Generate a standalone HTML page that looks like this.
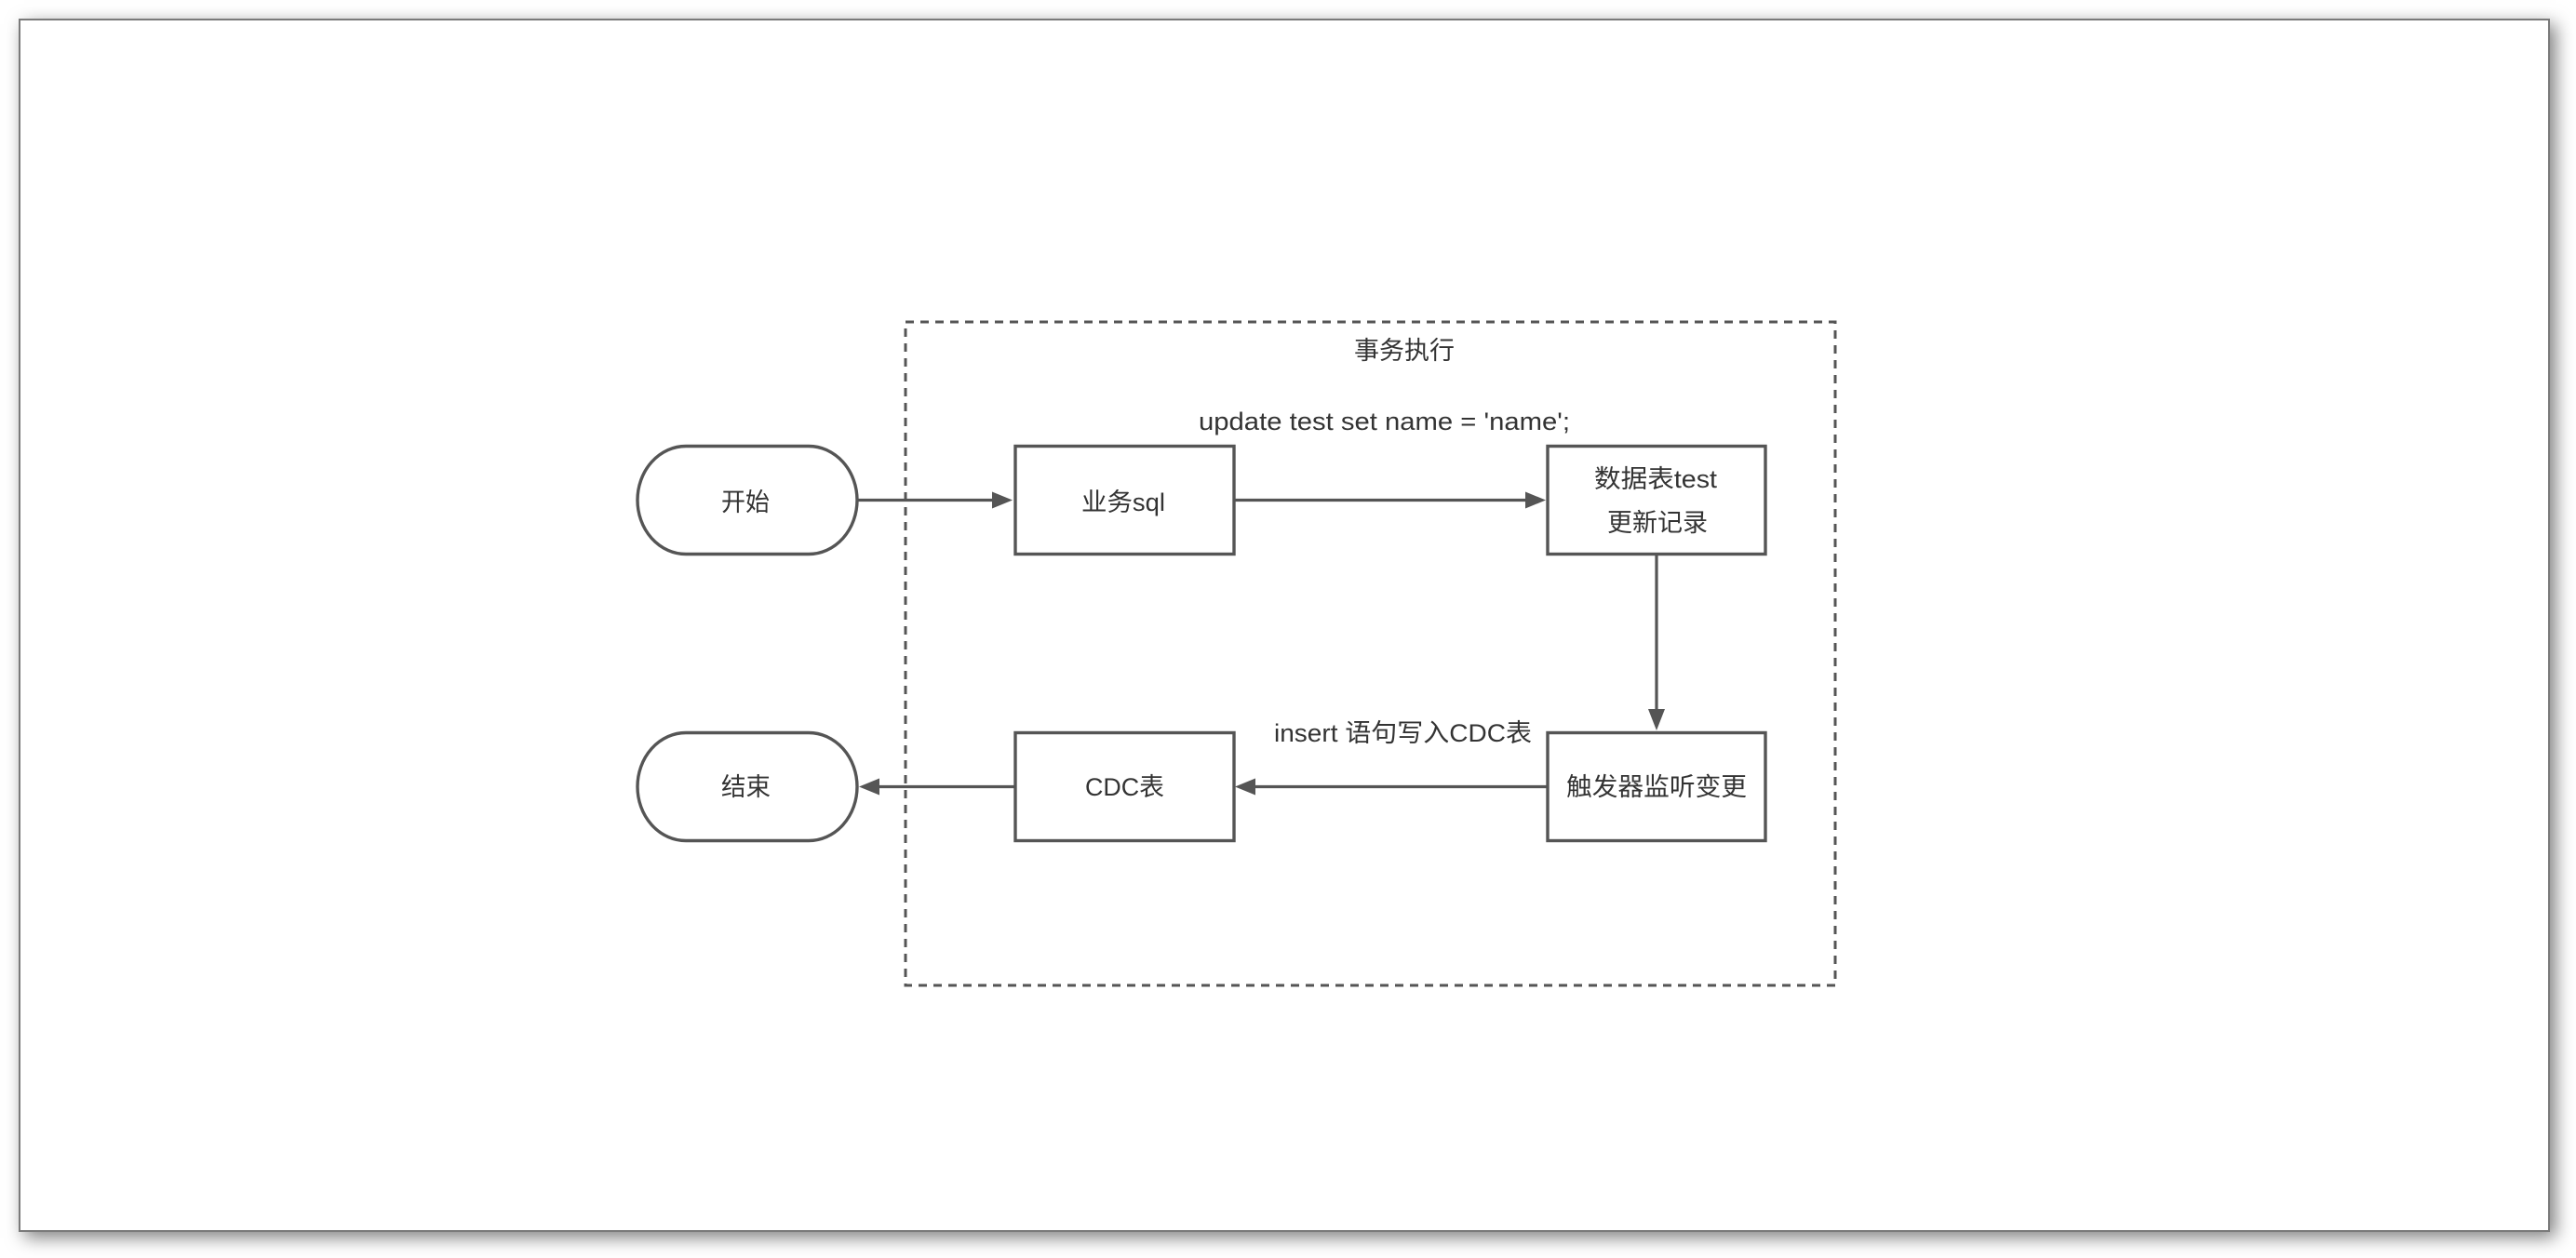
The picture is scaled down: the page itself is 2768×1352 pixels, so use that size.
<!DOCTYPE html>
<html>
<head>
<meta charset="utf-8">
<style>
  html, body { margin: 0; padding: 0; background: #ffffff; }
  body { width: 2768px; height: 1352px; position: relative; overflow: hidden; }
  .frame {
    position: absolute; left: 20px; top: 20px; width: 2716px; height: 1300px;
    border: 2px solid #7a7a7a; background: #ffffff;
    box-shadow: 6px 6px 18px rgba(0,0,0,0.5);
  }
  svg { position: absolute; left: 0; top: 0; }
  text { font-family: "Liberation Sans", "Noto Sans CJK SC", sans-serif; font-size: 27px; fill: #333333; }
</style>
</head>
<body>
<div class="frame"></div>
<svg width="2768" height="1352" viewBox="0 0 2768 1352" xmlns="http://www.w3.org/2000/svg">
  <!-- dashed container -->
  <rect x="973" y="346" width="999" height="713" fill="none" stroke="#555555" stroke-width="3" stroke-dasharray="9 7"/>
  <text x="1455" y="386" textLength="108" lengthAdjust="spacingAndGlyphs">事务执行</text>

  <!-- connectors -->
  <g stroke="#555555" stroke-width="3.2" fill="none">
    <line x1="922" y1="537.5" x2="1068" y2="537.5"/>
    <line x1="1327" y1="537.5" x2="1640" y2="537.5"/>
    <line x1="1780" y1="596" x2="1780" y2="765"/>
    <line x1="1662" y1="845.5" x2="1347" y2="845.5"/>
    <line x1="1090" y1="845.5" x2="943" y2="845.5"/>
  </g>
  <g fill="#555555">
    <polygon points="1088,537.5 1066,528.5 1066,546.5"/>
    <polygon points="1661,537.5 1639,528.5 1639,546.5"/>
    <polygon points="1780,785 1771,762 1789,762"/>
    <polygon points="1327,845.5 1349,836.5 1349,854.5"/>
    <polygon points="923,845.5 945,836.5 945,854.5"/>
  </g>

  <!-- nodes -->
  <g fill="#ffffff" stroke="#555555" stroke-width="3.4">
    <rect x="685" y="479.5" width="236" height="116" rx="52" ry="58"/>
    <rect x="1091" y="479.5" width="235" height="116"/>
    <rect x="1663" y="479.5" width="234" height="116"/>
    <rect x="685" y="787.5" width="236" height="116" rx="52" ry="58"/>
    <rect x="1091" y="787.5" width="235" height="116"/>
    <rect x="1663" y="787.5" width="234" height="116"/>
  </g>

  <!-- labels -->
  <text x="1288" y="462" textLength="399" lengthAdjust="spacingAndGlyphs">update test set name = 'name';</text>
  <text x="775" y="549" textLength="52" lengthAdjust="spacingAndGlyphs">开始</text>
  <text x="1162" y="549" textLength="90" lengthAdjust="spacingAndGlyphs">业务sql</text>
  <text x="1713" y="524" textLength="132" lengthAdjust="spacingAndGlyphs">数据表test</text>
  <text x="1727" y="571" textLength="108" lengthAdjust="spacingAndGlyphs">更新记录</text>
  <text x="1369" y="797" textLength="277" lengthAdjust="spacingAndGlyphs">insert 语句写入CDC表</text>
  <text x="1683" y="855" textLength="194" lengthAdjust="spacingAndGlyphs">触发器监听变更</text>
  <text x="1166" y="855" textLength="85" lengthAdjust="spacingAndGlyphs">CDC表</text>
  <text x="775" y="855" textLength="53" lengthAdjust="spacingAndGlyphs">结束</text>
</svg>
</body>
</html>
